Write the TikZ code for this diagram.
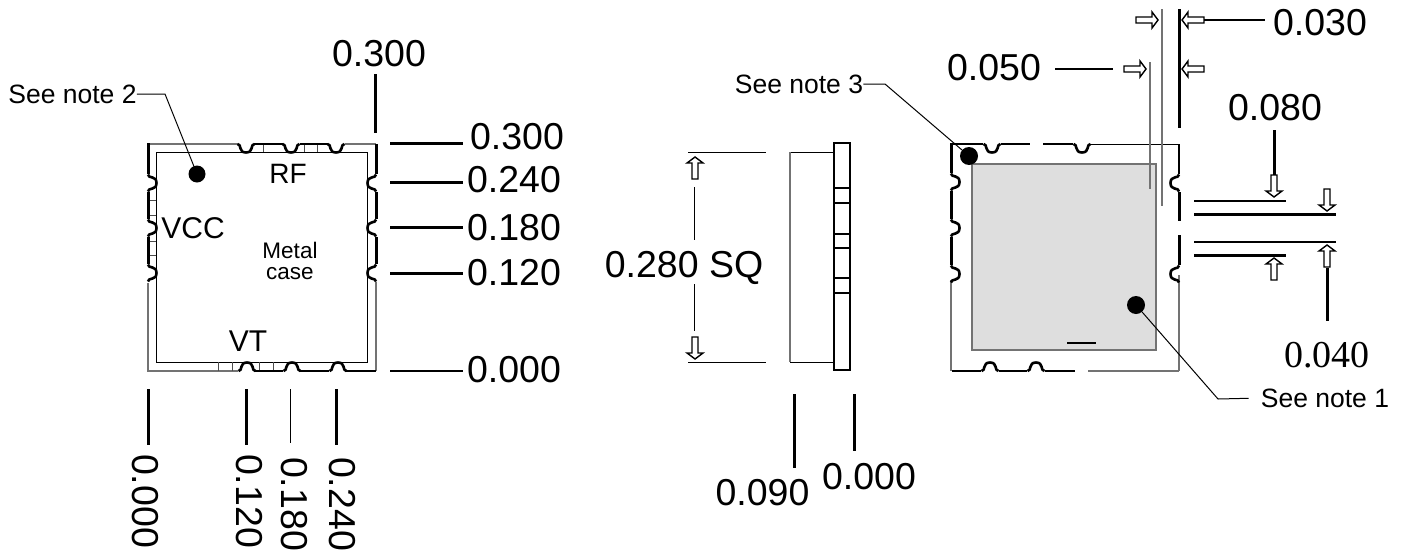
\documentclass[tikz,border=0pt]{standalone}
\usepackage{fontspec}
\setmainfont{Liberation Sans}
\newfontfamily\serifnum{Liberation Serif}
\newcommand{\fs}[1]{\fontsize{#1}{#1}\selectfont}
\tikzset{
  x=1pt,y=-1pt,
  thk/.style={line width=3pt,black},
  med/.style={line width=2.2pt,black},
  thn/.style={line width=1pt,black},
  gry/.style={line width=1.2pt,black!55},
  big/.style={inner sep=0pt,font=\fs{37.5}},
  small/.style={inner sep=0pt,font=\fs{26.5}},
  notch/.pic={\draw[line width=2.6pt,line join=round] (-8.5,0) .. controls (-4,0) and (-8,8.5) .. (0,8.5) .. controls (8,8.5) and (4,0) .. (8.5,0);},
  harrow/.pic={\draw[line width=1.4pt,fill=white,line join=miter] (-22,-3) -- (-6,-3) -- (-6,-8) -- (0,0) -- (-6,8) -- (-6,3) -- (-22,3) -- cycle;},
  dot/.style={circle,fill=black,inner sep=0pt,minimum size=18pt}
}
\begin{document}
\begin{tikzpicture}
\useasboundingbox (0,0) rectangle (1405,552);
% ---------- left package
\draw[thn] (156,152) rectangle (367,362);
\draw[gry] (148,283) -- (148,371) -- (238,371);
\draw[gry] (148,144) -- (238,144);
\draw[gry] (345,144) -- (376,144);
\draw[gry] (376,282) -- (376,371);
\foreach \xx in {263,304,317} \draw[thn,black!70] (\xx,144) -- (\xx,152);
\foreach \yy in {200,215,241,255} \draw[thn,black!70] (148,\yy) -- (156,\yy);
\foreach \xx in {218,232,259,273} \draw[thn,black!70] (\xx,362) -- (\xx,371);
\draw[thk] (148,143) -- (148,174) (148,192) -- (148,219) (148,237) -- (148,264);
\draw[thk] (376,144) -- (376,174) (376,192) -- (376,219) (376,237) -- (376,264);
\draw[med] (254,144) -- (283,144) (300,144) -- (328,144);
\draw[med] (255,371) -- (283,371) (300,371) -- (329,371) (346,371) -- (376,371);
\pic at (246,144) {notch}; \pic at (291,144) {notch}; \pic at (336,144) {notch};
\pic[rotate=180] at (247,371) {notch}; \pic[rotate=180] at (292,371) {notch}; \pic[rotate=180] at (338,371) {notch};
\pic[rotate=90] at (148,183) {notch}; \pic[rotate=90] at (148,228) {notch}; \pic[rotate=90] at (148,273) {notch};
\pic[rotate=-90] at (376,183) {notch}; \pic[rotate=-90] at (376,228) {notch}; \pic[rotate=-90] at (376,273) {notch};
\node[dot,minimum size=17pt] (dotA) at (197,174) {};
\node[small] (noteA) at (72.5,94) {See note 2};
\draw[thn] (noteA.east) -- (165,94) -- (dotA);
\node[inner sep=0pt,font=\fs{28}] (rf) at (288,174) {RF};
\node[inner sep=0pt,font=\fs{30}] (vcc) at (193,228) {VCC};
\node[inner sep=0pt,font=\fs{30}] (vt) at (248,341) {VT};
\node[align=center,inner sep=0pt,font=\fs{22.5}] (metal) at (290,261) {Metal\\[-1pt]case};
% left package dims
\draw[thk] (375.5,74) -- (375.5,133);
\node[big] (d300t) at (379,54) {0.300};
\node[big] (d300) at (517,137) {0.300};
\node[big] (d240) at (514,180) {0.240};
\node[big] (d180) at (514,228) {0.180};
\node[big] (d120) at (514,273) {0.120};
\node[big] (d000) at (514,370) {0.000};
\draw[thk] (390,143) -- (463,143);
\draw[thk] (390,182) -- (463,182);
\draw[thk] (390,227) -- (463,227);
\draw[med] (390,273.5) -- (463,273.5);
\draw[med] (390,371) -- (463,371);
\draw[thk] (148,389) -- (148,445);
\draw[thk] (246,389) -- (246,445);
\draw[thn] (290.5,389) -- (290.5,443);
\draw[thk] (336.5,389) -- (336.5,445);
\node[big,rotate=-90] (b0) at (145,501) {0.000};
\node[big,rotate=-90] (b1) at (249,501) {0.120};
\node[big,rotate=-90] (b2) at (294,504) {0.180};
\node[big,rotate=-90] (b3) at (342,504) {0.240};
% ---------- side view
\draw[thn] (688,152) -- (766,152) (688,362) -- (766,362);
\draw[thn] (790,152) -- (834,152) (790,362) -- (834,362);
\draw[gry] (790,152) -- (790,362);
\draw[line width=2.6pt] (834,143) rectangle (850,370);
\foreach \yy in {188,203,234,248,278,293} \draw[med] (834,\yy) -- (850,\yy);
\pic[rotate=90] at (695,157) {harrow};
\pic[rotate=-90] at (695,359) {harrow};
\draw[thn] (694.5,187) -- (694.5,240) (694.5,284) -- (694.5,331);
\node[big] (sq) at (684,268) {0.280 SQ};
\draw[thk] (794.5,394) -- (794.5,468);
\draw[thk] (854.5,394) -- (854.5,451);
\node[big] (s090) at (762.5,493) {0.090};
\node[big] (s000) at (869,477) {0.000};
% ---------- right package
\draw[gry,fill=black!13] (972,164) rectangle (1156,350);
\draw[gry] (951,280) -- (951,371) (1088,371) -- (1179,371) (1179,275) -- (1179,371);
\draw[thn] (1090,144) -- (1179,144);
\draw[thk] (951,143) -- (951,173) (951,191) -- (951,219) (951,237) -- (951,265);
\draw[med] (952,371) -- (981,371) (999,371) -- (1027,371) (1045,371) -- (1075,371);
\draw[med] (952,144) -- (983,144) (1001,144) -- (1030,144) (1043,144) -- (1073,144);
\draw[med] (1179,144) -- (1179,174);
\draw[thk] (1179,192) -- (1179,221) (1179,235) -- (1179,265);
\pic at (992,144) {notch}; \pic at (1082,144) {notch};
\pic[rotate=180] at (990,371) {notch}; \pic[rotate=180] at (1036,371) {notch};
\pic[rotate=90] at (951,182) {notch}; \pic[rotate=90] at (951,228) {notch}; \pic[rotate=90] at (951,274) {notch};
\pic[rotate=-90] at (1179,183) {notch}; \pic[rotate=-90] at (1179,274) {notch};
\draw[med] (1067,343) -- (1096,343);
\node[dot] (dotB) at (969,156) {};
\node[dot] (dotC) at (1136,305) {};
\node[small] (noteB) at (799,84) {See note 3};
\draw[thn] (noteB.east) -- (885,84) -- (dotB);
\node[small] (noteC) at (1325,398) {See note 1};
\draw[thn,shorten <=12pt] (noteC.west) -- (1218,399) -- (dotC);
% top dims
\draw[gry] (1162,9) -- (1162,206);
\draw[gry] (1150,62) -- (1150,189);
\draw[thk] (1179,9) -- (1179,128);
\pic at (1158,20) {harrow};
\pic at (1146,69) {harrow};
\pic[rotate=180] at (1182,20) {harrow};
\pic[rotate=180] at (1182,69) {harrow};
\draw[med] (1204,20) -- (1265,20);
\draw[med] (1055,69) -- (1113,69);
\node[big] (t030) at (1320,23) {0.030};
\node[big] (t050) at (994,68) {0.050};
\node[big] (t080) at (1275,108) {0.080};
\node[big,font=\fs{38}\serifnum] (t040) at (1327,355) {0.040};
\draw[thk] (1274,130) -- (1274,175);
\pic[rotate=-90] at (1274,197) {harrow};
\pic[rotate=-90] at (1327,211) {harrow};
\pic[rotate=90] at (1274,258) {harrow};
\pic[rotate=90] at (1327,245) {harrow};
\draw[thk] (1327,268) -- (1327,321);
\draw[med] (1194,201) -- (1286,201);
\draw[thk] (1194,214) -- (1336,214);
\draw[med] (1194,242) -- (1336,242);
\draw[thk] (1194,255) -- (1286,255);
\end{tikzpicture}
\end{document}
